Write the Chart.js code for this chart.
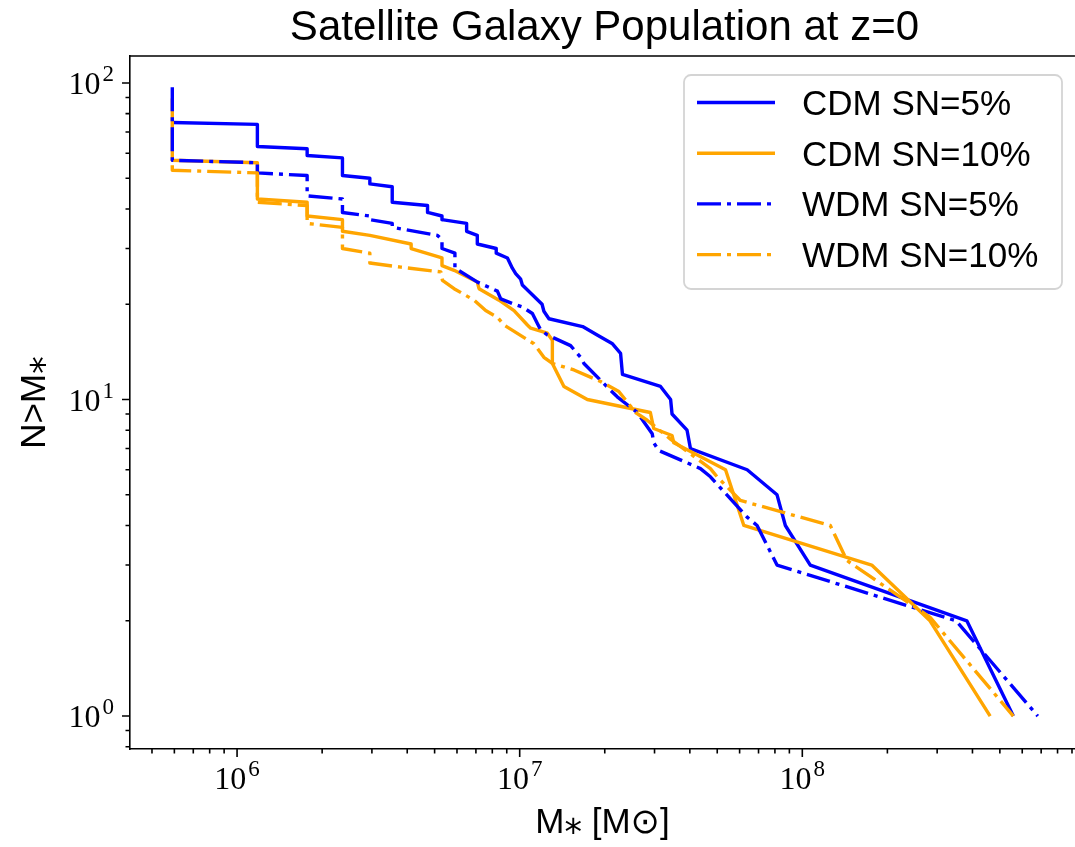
<!DOCTYPE html>
<html>
<head>
<meta charset="utf-8">
<title>Satellite Galaxy Population at z=0</title>
<script src="https://cdn.jsdelivr.net/npm/chart.js@4.4.1/dist/chart.umd.min.js"></script>
<style>
  html, body { margin: 0; padding: 0; background: #fff; overflow: hidden; }
  #chartBox { width: 1075px; height: 847px; }
</style>
</head>
<body>
<div id="chartBox"><canvas id="myChart" width="1075" height="847"></canvas></div>
<script>
// cumulative counts N(>M*), stellar mass in Msun
var cdm5Mass = [5.9e5, 1.18e6, 1.18e6, 1.77e6, 1.77e6, 2.36e6, 2.36e6, 2.95e6, 2.95e6, 3.54e6, 3.54e6,
    4.72e6, 4.72e6, 5.31e6, 5.31e6, 6.49e6, 6.49e6, 7.08e6, 7.08e6, 8.26e6, 8.26e6, 9.05e6, 9.42e6, 9.68e6,
    1.008e7, 1.022e7, 1.20e7, 1.218e7, 1.269e7, 1.67e7, 1.88e7, 2.13e7, 2.275e7, 2.31e7, 3.15e7, 3.42e7,
    3.46e7, 3.91e7, 4.02e7, 6.38e7, 8.14e7, 8.71e7, 1.067e8, 3.82e8, 5.58e8];
var cdm5N = [75, 74, 63, 62, 59, 58, 51, 50, 48, 47, 42, 41, 39, 38, 37, 36, 34, 33, 31, 30, 29, 28, 26, 25,
    24, 23, 20, 19, 18, 17, 16, 15, 14, 12, 11, 10, 9, 8, 7, 6, 5, 4, 3, 2, 1];

var cdm10Mass = [5.9e5, 5.9e5, 1.18e6, 1.18e6, 1.77e6, 1.77e6, 2.36e6, 2.36e6, 2.95e6, 4.13e6, 4.13e6,
    5.31e6, 5.31e6, 5.86e6, 7.08e6, 7.18e6, 8.45e6, 9.55e6, 1.065e7, 1.094e7, 1.253e7, 1.305e7, 1.305e7,
    1.434e7, 1.735e7, 2.90e7, 2.98e7, 3.46e7, 3.51e7, 5.35e7, 6.21e7, 1.76e8, 2.83e8, 4.62e8];
var cdm10N = [89, 57, 56, 43, 42, 38, 37, 34, 33, 31, 30, 28, 26.5, 25.6, 23.5, 22.4, 20.6, 19.1, 17.2, 16.8,
    16.2, 15.4, 13, 11, 10, 9.1, 8.1, 7.7, 7.3, 6, 4, 3, 2, 1];

var wdm5Mass = [5.9e5, 5.9e5, 1.18e6, 1.18e6, 1.77e6, 1.77e6, 2.36e6, 2.36e6, 2.95e6, 2.95e6, 3.54e6, 3.54e6,
    5.12e6, 5.31e6, 5.31e6, 5.9e6, 5.9e6, 7.09e6, 8.34e6, 8.57e6, 9.55e6, 1.022e7, 1.109e7, 1.155e7, 1.186e7,
    1.253e7, 1.514e7, 1.643e7, 1.688e7, 1.933e7, 2.214e7, 2.605e7, 2.944e7, 2.982e7, 3.106e7, 4.361e7,
    4.73e7, 6.379e7, 6.918e7, 8.138e7, 3.50e8, 6.81e8];
var wdm5N = [97, 57, 56, 52, 51, 44, 43, 39, 38, 37, 36, 35, 33, 32, 30, 29, 26, 23.5, 22, 20.8, 20, 19.6,
    18.7, 17.4, 16.6, 16, 14.8, 13.6, 13, 11.5, 10.2, 9.1, 7.8, 7.3, 6.9, 6.05, 5.7, 4.25, 4, 3, 2, 1];

var wdm10Mass = [5.9e5, 5.9e5, 1.18e6, 1.18e6, 1.77e6, 1.77e6, 2.36e6, 2.36e6, 2.95e6, 2.95e6, 3.80e6,
    5.26e6, 5.33e6, 5.86e6, 6.90e6, 7.58e6, 8.34e6, 8.80e6, 1.123e7, 1.155e7, 1.218e7, 1.305e7, 1.556e7,
    1.933e7, 2.243e7, 2.570e7, 2.826e7, 3.416e7, 4.730e7, 4.995e7, 6.04e7, 1.256e8, 1.439e8, 2.834e8, 5.58e8];
var wdm10N = [55, 53, 52, 42, 41, 36, 35, 30, 29, 27, 26.2, 25.3, 23.8, 22.4, 20.6, 19.1, 18.2, 17.2, 15,
    14.5, 13.6, 13, 12.4, 11.4, 10.6, 9.1, 8.6, 7.5, 6.05, 5.7, 4.8, 4, 3.1, 2.05, 1];

var seriesLabels = ['CDM SN=5%', 'CDM SN=10%', 'WDM SN=5%', 'WDM SN=10%'];
var titleText = 'Satellite Galaxy Population at z=0';
var xTitle = 'M\u204E [M\u2299]';
var yTitle = 'N>M\u204E';

// axis limits
var xMin = 4.18e5, xMax = 9.22e8;
var yMin = 0.787, yMax = 121.7;

const blue = 'rgb(0, 0, 255)';
const orange = 'rgb(255, 165, 0)';
const dashDot = [24, 6, 4, 6];
const sansFont = '"Liberation Sans", "DejaVu Sans", Arial, sans-serif';
const serifFont = '"Liberation Serif", "DejaVu Serif", serif';

function toPoints(masses, counts) {
    return masses.map(function (m, i) { return {x: m, y: counts[i]}; });
}

function isPower(value) {
    var e = Math.log10(value);
    return Math.abs(e - Math.round(e)) < 1e-9;
}

// 1..9 x 10^k inside the range
function decadeTicks(scale) {
    var ticks = [];
    for (var e = -2; e <= 10; e++) {
        for (var m = 1; m <= 9; m++) {
            var v = m * Math.pow(10, e);
            if (v >= scale.min && v <= scale.max) ticks.push({value: v});
        }
    }
    scale.ticks = ticks;
}

// "10" with a raised exponent, like the matplotlib mathtext labels
function drawPowerLabel(ctx, value, x, baseY, align) {
    var e = String(Math.round(Math.log10(value)));
    ctx.font = '32px ' + serifFont;
    var wBase = ctx.measureText('10').width;
    ctx.font = '23px ' + serifFont;
    var wExp = ctx.measureText(e).width;
    var total = wBase + 2 + wExp;
    var left = align === 'center' ? x - total / 2 : x - total;
    ctx.textAlign = 'left';
    ctx.textBaseline = 'alphabetic';
    ctx.font = '32px ' + serifFont;
    ctx.fillText('10', left, baseY);
    ctx.font = '23px ' + serifFont;
    ctx.fillText(e, left + wBase + 2, baseY - 13);
}

// matplotlib-like frame: major/minor tick marks, tick labels, top spine, title
const frameMarks = {
    id: 'frameMarks',
    afterDraw(chart) {
        var ctx = chart.ctx;
        var area = chart.chartArea;
        var xs = chart.scales.x, ys = chart.scales.y;
        ctx.save();
        ctx.strokeStyle = '#000';
        ctx.lineWidth = 1.6;
        ctx.beginPath();
        ctx.moveTo(area.left, area.top);
        ctx.lineTo(area.right, area.top);
        xs.ticks.forEach(function (t) {
            var px = xs.getPixelForValue(t.value);
            var len = isPower(t.value) ? 8 : 4.5;
            ctx.moveTo(px, area.bottom);
            ctx.lineTo(px, area.bottom + len);
        });
        ys.ticks.forEach(function (t) {
            var py = ys.getPixelForValue(t.value);
            var len = isPower(t.value) ? 8 : 4.5;
            ctx.moveTo(area.left, py);
            ctx.lineTo(area.left - len, py);
        });
        ctx.stroke();

        ctx.fillStyle = '#000';
        xs.ticks.forEach(function (t) {
            if (isPower(t.value)) drawPowerLabel(ctx, t.value, xs.getPixelForValue(t.value), area.bottom + 40, 'center');
        });
        ys.ticks.forEach(function (t) {
            if (isPower(t.value)) drawPowerLabel(ctx, t.value, area.left - 16, ys.getPixelForValue(t.value) + 11, 'right');
        });

        ctx.font = '42px ' + sansFont;
        ctx.textAlign = 'center';
        ctx.textBaseline = 'alphabetic';
        ctx.fillText(titleText, (area.left + area.right) / 2 + 2, 40);
        ctx.restore();
    }
};

// legend box in the upper right corner
const boxLegend = {
    id: 'boxLegend',
    afterDraw(chart) {
        var ctx = chart.ctx;
        var bx = 684, by = 75, bw = 378, bh = 214;
        ctx.save();
        ctx.beginPath();
        ctx.roundRect(bx, by, bw, bh, 7);
        ctx.fillStyle = 'rgba(255, 255, 255, 0.8)';
        ctx.fill();
        ctx.strokeStyle = '#d4d4d4';
        ctx.lineWidth = 1.8;
        ctx.stroke();
        chart.data.datasets.forEach(function (ds, i) {
            var rowY = 102.5 + i * 50.7;
            ctx.beginPath();
            ctx.setLineDash(ds.borderDash || []);
            ctx.strokeStyle = ds.borderColor;
            ctx.lineWidth = ds.borderWidth;
            ctx.moveTo(697, rowY);
            ctx.lineTo(775, rowY);
            ctx.stroke();
            ctx.setLineDash([]);
            ctx.fillStyle = '#000';
            ctx.font = '35px ' + sansFont;
            ctx.textAlign = 'left';
            ctx.textBaseline = 'alphabetic';
            ctx.fillText(ds.label, 802, rowY + 12.5);
        });
        ctx.restore();
    }
};

function makeDataset(label, masses, counts, color, dash, order) {
    return {
        label: label,
        data: toPoints(masses, counts),
        borderColor: color,
        backgroundColor: color,
        borderWidth: 3.4,
        borderDash: dash,
        borderJoinStyle: 'round',
        pointRadius: 0,
        tension: 0,
        fill: false,
        order: order
    };
}

var ctx = document.getElementById('myChart').getContext('2d');
var myChart = new Chart(ctx, {
    type: 'line',
    data: {
        datasets: [
            makeDataset(seriesLabels[0], cdm5Mass, cdm5N, blue, [], 4),
            makeDataset(seriesLabels[1], cdm10Mass, cdm10N, orange, [], 3),
            makeDataset(seriesLabels[2], wdm5Mass, wdm5N, blue, dashDot, 2),
            makeDataset(seriesLabels[3], wdm10Mass, wdm10N, orange, dashDot, 1)
        ]
    },
    options: {
        responsive: false,
        devicePixelRatio: 1,
        animation: false,
        layout: { padding: {top: 56, right: 0, bottom: 0, left: 0} },
        plugins: {
            legend: { display: false },
            title: { display: false },
            tooltip: { enabled: false }
        },
        scales: {
            x: {
                type: 'logarithmic',
                min: xMin,
                max: xMax,
                grid: { display: false, drawTicks: false },
                border: { display: true, color: '#000', width: 1.6 },
                afterBuildTicks: decadeTicks,
                afterFit: function (scale) { scale.height = 98; },
                ticks: { autoSkip: false, maxRotation: 0, callback: function () { return ''; } },
                title: {
                    display: true,
                    text: xTitle,
                    color: '#000',
                    font: { family: sansFont, size: 35 },
                    padding: {top: 0, bottom: 3}
                }
            },
            y: {
                type: 'logarithmic',
                min: yMin,
                max: yMax,
                grid: { display: false, drawTicks: false },
                border: { display: true, color: '#000', width: 1.6 },
                afterBuildTicks: decadeTicks,
                afterFit: function (scale) { scale.width = 130; },
                ticks: { autoSkip: false, callback: function () { return ''; } },
                title: {
                    display: true,
                    text: yTitle,
                    color: '#000',
                    font: { family: sansFont, size: 35 },
                    padding: {top: 14, bottom: 0}
                }
            }
        }
    },
    plugins: [frameMarks, boxLegend]
});
</script>
</body>
</html>
